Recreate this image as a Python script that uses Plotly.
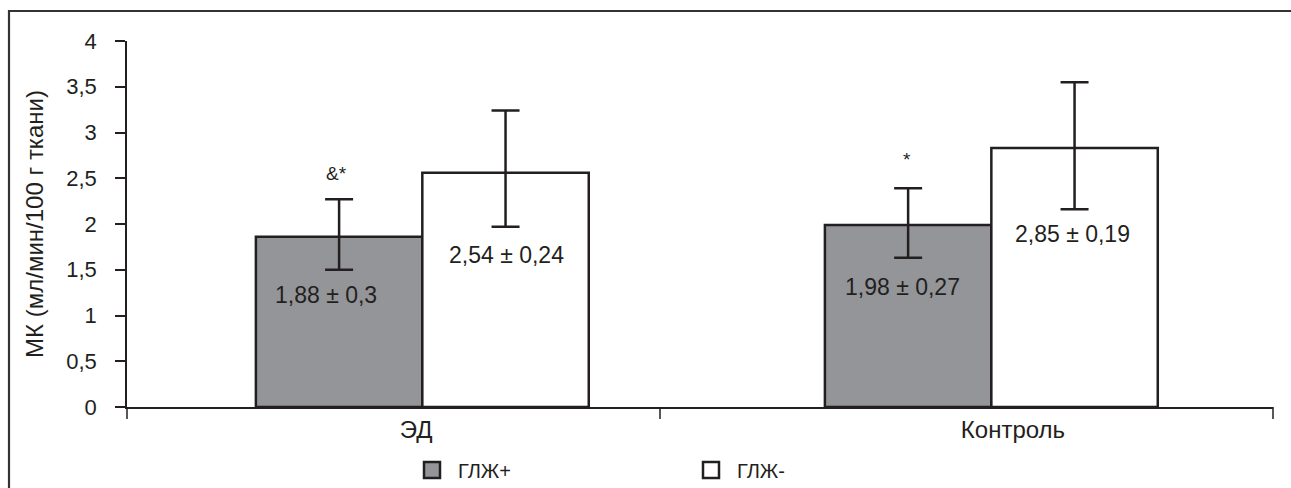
import plotly.graph_objects as go

# ---- data ----
categories = ["ЭД", "Контроль"]
category_label_shift = [-0.011, 0.038]   # label centre offset from group centre (category units)
series_names = ["ГЛЖ+", "ГЛЖ-"]
glzh_plus = [1.86, 1.99]
glzh_minus = [2.56, 2.83]
glzh_plus_err_up = [0.41, 0.40]
glzh_plus_err_down = [0.36, 0.36]
glzh_minus_err_up = [0.68, 0.72]
glzh_minus_err_down = [0.59, 0.67]
value_labels_plus = ["1,88 ± 0,3", "1,98 ± 0,27"]
value_labels_minus = ["2,54 ± 0,24", "2,85 ± 0,19"]
signif_marks = ["&*", "*"]
y_tick_vals = [0, 0.5, 1, 1.5, 2, 2.5, 3, 3.5, 4]
y_tick_text = ["0", "0,5", "1", "1,5", "2", "2,5", "3", "3,5", "4"]
y_title = "МК (мл/мин/100 г ткани)"

# ---- style ----
INK = "#231f20"
GREY = "#939598"
FONT = "Liberation Sans, Arial, sans-serif"
FS = 22
FS_VAL = 23

fig = go.Figure()

err_style = dict(type="data", symmetric=False, color=INK, thickness=2.5, width=14)

fig.add_trace(go.Bar(
    x=categories, y=glzh_plus, name=series_names[0],
    marker=dict(color=GREY, line=dict(color=INK, width=2.5)),
    error_y=dict(array=glzh_plus_err_up, arrayminus=glzh_plus_err_down, **err_style),
    showlegend=False,
))
fig.add_trace(go.Bar(
    x=categories, y=glzh_minus, name=series_names[1],
    marker=dict(color="white", line=dict(color=INK, width=2.5)),
    error_y=dict(array=glzh_minus_err_up, arrayminus=glzh_minus_err_down, **err_style),
    showlegend=False,
))

# legend entries (square swatches)
for nm, col in zip(series_names, [GREY, "white"]):
    fig.add_trace(go.Scatter(
        x=[None], y=[None], mode="markers", name=nm,
        marker=dict(symbol="square", size=16, color=col, line=dict(color=INK, width=2.5)),
    ))

# value labels and significance marks
label_offsets_plus = [(-0.17, 1.22), (-0.156, 1.31)]
label_offsets_minus = [(0.148, 1.66), (0.143, 1.89)]
mark_pos = [(-0.15, 2.55), (-0.149, 2.70)]
for i in range(len(categories)):
    dx, yy = label_offsets_plus[i]
    fig.add_annotation(x=i + dx, y=yy, xref="x", yref="y", text=value_labels_plus[i],
                       showarrow=False, font=dict(size=FS_VAL, color=INK))
    dx, yy = label_offsets_minus[i]
    fig.add_annotation(x=i + dx, y=yy, xref="x", yref="y", text=value_labels_minus[i],
                       showarrow=False, font=dict(size=FS_VAL, color=INK))
    dx, yy = mark_pos[i]
    fig.add_annotation(x=i + dx, y=yy, xref="x", yref="y", text=signif_marks[i],
                       showarrow=False, font=dict(size=19, color=INK))

# category boundary tick marks on x axis (paper coords within plot width)
W, H = 1291, 488
L, R, T, B = 127, 18, 41, 81
pw, ph = W - L - R, H - T - B
for px in [127, 660, 1273]:
    xp = (px - L) / pw
    fig.add_shape(type="line", xref="paper", yref="paper", x0=xp, x1=xp,
                  y0=0, y1=-12 / ph, line=dict(color=INK, width=1.5))

# outer frame (only top/left visible in reference)
fig.add_shape(type="rect", xref="paper", yref="paper",
              x0=(9 - L) / pw, x1=(1310 - L) / pw,
              y0=(H - B - 510) / ph, y1=(H - B - 11) / ph,
              line=dict(color="#333333", width=2.2), fillcolor="rgba(0,0,0,0)", layer="below")

fig.update_layout(
    width=W, height=H,
    margin=dict(l=L, r=R, t=T, b=B, pad=0, autoexpand=False),
    paper_bgcolor="white", plot_bgcolor="white",
    barmode="group", bargap=0.415, bargroupgap=0,
    font=dict(family=FONT, size=FS, color=INK),
    legend=dict(orientation="h", x=(406 - L) / pw, xanchor="left",
                y=(H - B - 470) / ph, yanchor="middle",
                entrywidth=222, entrywidthmode="pixels", itemwidth=42,
                font=dict(size=20, color=INK), bgcolor="rgba(0,0,0,0)",
                itemsizing="trace"),
    xaxis=dict(type="category", range=[-0.519, 1.495],
               tickmode="array",
               tickvals=[i + s for i, s in enumerate(category_label_shift)],
               ticktext=categories,
               showline=True, linecolor=INK, linewidth=1.5,
               ticks="", showgrid=False, zeroline=False,
               tickfont=dict(size=24, color=INK)),
    yaxis=dict(range=[0, 4], tickvals=y_tick_vals, ticktext=y_tick_text,
               showline=True, linecolor=INK, linewidth=1.5,
               ticks="outside", ticklen=10, tickwidth=1.5, tickcolor=INK,
               ticklabelstandoff=14,
               showgrid=False, zeroline=False,
               tickfont=dict(size=FS, color=INK),
               title=dict(text=y_title, standoff=16, font=dict(size=24, color=INK))),
)

fig.write_html("out.html", config={"displayModeBar": False},
               post_script="document.body.style.margin='0px';document.body.style.overflow='hidden';")
